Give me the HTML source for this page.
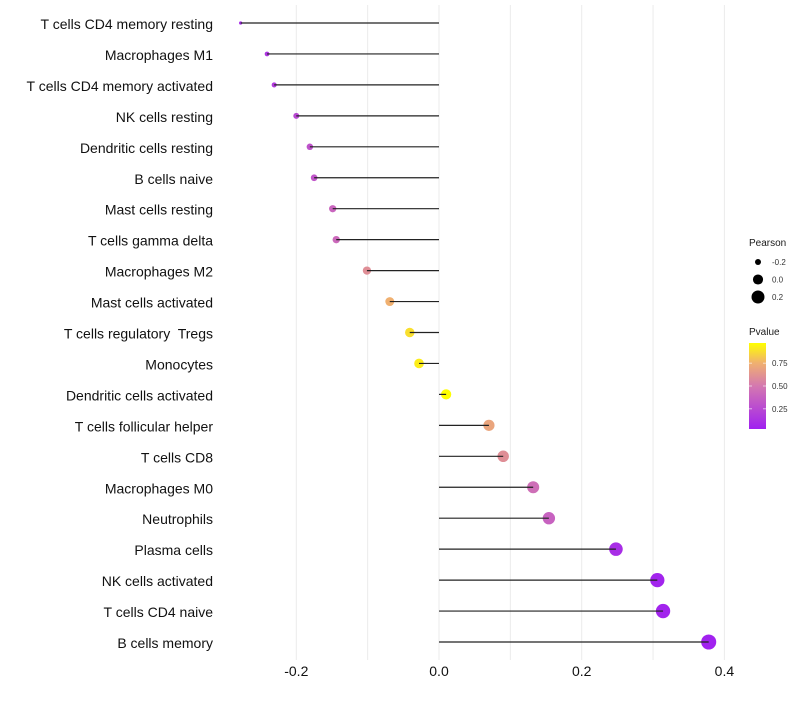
<!DOCTYPE html>
<html><head><meta charset="utf-8"><style>
body{margin:0;background:#fff;font-family:"Liberation Sans",sans-serif}
text{white-space:pre}
</style></head><body>
<svg id="c" width="800" height="700" font-family="Liberation Sans, sans-serif"></svg>
<script>
const categories=["T cells CD4 memory resting","Macrophages M1","T cells CD4 memory activated","NK cells resting","Dendritic cells resting","B cells naive","Mast cells resting","T cells gamma delta","Macrophages M2","Mast cells activated","T cells regulatory  Tregs","Monocytes","Dendritic cells activated","T cells follicular helper","T cells CD8","Macrophages M0","Neutrophils","Plasma cells","NK cells activated","T cells CD4 naive","B cells memory"];
const pearson=[-0.278,-0.241,-0.231,-0.200,-0.181,-0.175,-0.149,-0.144,-0.101,-0.069,-0.041,-0.028,0.010,0.070,0.090,0.132,0.154,0.248,0.306,0.314,0.378];
const pvalue=[0.08,0.15,0.18,0.25,0.30,0.32,0.40,0.42,0.60,0.75,0.88,0.92,0.97,0.70,0.60,0.45,0.38,0.10,0.05,0.05,0.04];
const xTicks=[-0.2,0,0.2,0.4];
const xTickLabels=["-0.2","0.0","0.2","0.4"];
const sizeLegend=[-0.2,0.0,0.2];
const colorTicks=[0.25,0.5,0.75];

const svg=document.getElementById('c');
const NS="http://www.w3.org/2000/svg";
function mk(t,a,p){const e=document.createElementNS(NS,t);for(const k in a)e.setAttribute(k,a[k]);(p||svg).appendChild(e);return e;}
const xS=v=>439+v*713.5;
const yS=i=>23+i*30.95;
const rS=v=>Math.sqrt(Math.max(1,25.5+82.5*v));
const stops=[[0.03,[160,32,240]],[0.5,[212,120,176]],[0.75,[240,176,112]],[0.97,[255,255,0]]];
function col(p){p=Math.max(0.03,Math.min(0.97,p));for(let i=0;i<stops.length-1;i++){const a=stops[i],b=stops[i+1];if(p<=b[0]){const t=(p-a[0])/(b[0]-a[0]);const c=a[1].map((v,k)=>Math.round(v+(b[1][k]-v)*t));return `rgb(${c})`;}}return 'rgb(255,255,0)';}

[-0.2,-0.1,0,0.1,0.2,0.3,0.4].forEach(v=>{
 const g=mk('line',{x1:xS(v),x2:xS(v),y1:5,y2:660,stroke:'#ebebeb','stroke-width':1});
 
 
});
xTicks.forEach((v,i)=>{
 const t=mk('text',{x:xS(v),y:676,'text-anchor':'middle','font-size':14,fill:'#111'});t.textContent=xTickLabels[i];
 
 
});
categories.forEach((c,i)=>{
 const y=yS(i);
 const t=mk('text',{x:213,y:y+6,'text-anchor':'end','font-size':14,fill:'#111'});t.textContent=c;
 
 
 const d=mk('circle',{cx:xS(pearson[i]),cy:y,r:rS(pearson[i]),fill:col(pvalue[i])});
 
 
 const l=mk('line',{x1:xS(0),x2:xS(pearson[i]),y1:y,y2:y,stroke:'#222','stroke-width':1.2});
 
 
});
const st=mk('text',{x:749,y:246,'font-size':10,fill:'#1a1a1a'});st.textContent='Pearson';


sizeLegend.forEach((v,i)=>{
 const y=262+i*17.5;
 const c=mk('circle',{cx:758,cy:y,r:rS(v),fill:'#000'});
 
 
 const t=mk('text',{x:772,y:y+3,'font-size':8,fill:'#333'});t.textContent=v.toFixed(1);
 
 
});
const ct=mk('text',{x:749,y:335,'font-size':10,fill:'#1a1a1a'});ct.textContent='Pvalue';


const defs=mk('defs',{});const lg=mk('linearGradient',{id:'g',x1:0,y1:1,x2:0,y2:0},defs);
stops.forEach(s=>mk('stop',{offset:(s[0]-0.03)/0.94,'stop-color':`rgb(${s[1]})`},lg));
const cb=mk('rect',{x:749,y:343,width:17,height:86,fill:'url(#g)'});


colorTicks.forEach(v=>{
 const y=343+86*(0.97-v)/0.94;
 mk('line',{x1:749,x2:752,y1:y,y2:y,stroke:'#fff','stroke-width':0.6});
 mk('line',{x1:763,x2:766,y1:y,y2:y,stroke:'#fff','stroke-width':0.6});
 const t=mk('text',{x:772,y:y+3,'font-size':8,fill:'#333'});t.textContent=v.toFixed(2);
 
 
});
</script>
</body></html>
